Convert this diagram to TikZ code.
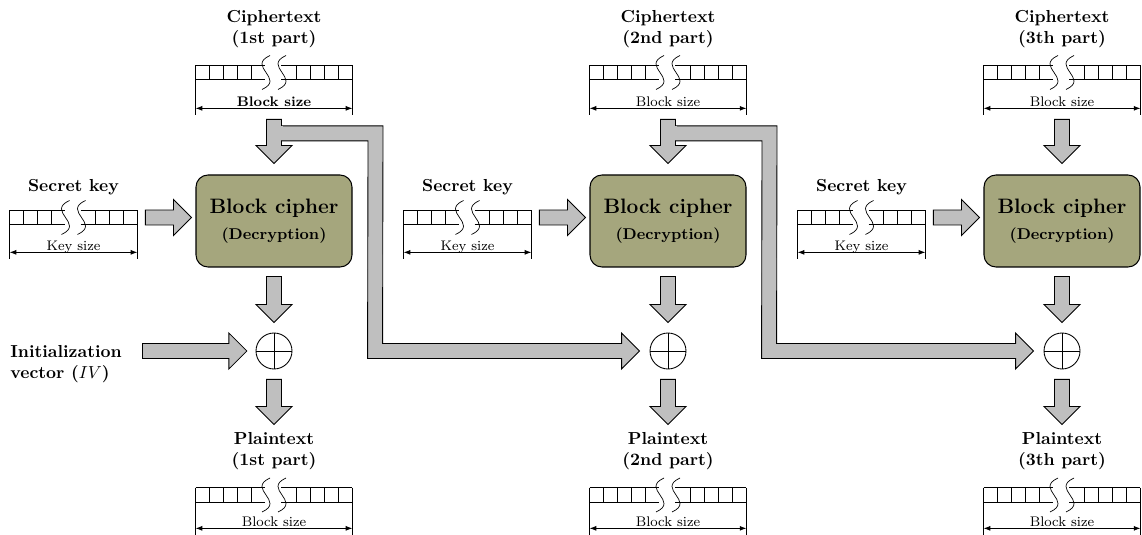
\documentclass[tikz,border=0pt]{standalone}
\usetikzlibrary{calc,arrows.meta,positioning}
\definecolor{cipherfill}{RGB}{165,166,125}
\definecolor{arrowfill}{gray}{0.75}
\tikzset{
	lbl/.style      = {font=\bfseries, align=center},
	reg/.style      = {shape=rectangle, inner sep=0pt, minimum height=8.05pt},
	blockreg/.style = {reg, minimum width=89.7pt},
	keyreg/.style   = {reg, minimum width=73pt},
	regline/.style  = {line width=0.4pt},
	dimline/.style  = {line width=0.4pt, {Latex[length=3.8pt,width=2.8pt]}-{Latex[length=3.8pt,width=2.8pt]}},
	dimlbl/.style   = {font=\footnotesize, anchor=base, inner sep=0pt, yshift=1.2pt},
	cipher/.style   = {shape=rectangle, rounded corners=6.9pt, draw, line width=0.6pt,
		fill=cipherfill, minimum width=89.7pt, minimum height=52.9pt,
		align=center, font=\bfseries},
	xor/.style      = {shape=circle, draw, line width=0.5pt, minimum size=20.7pt, inner sep=0pt,
		path picture={\draw (path picture bounding box.north) -- (path picture bounding box.south)
			(path picture bounding box.west) -- (path picture bounding box.east);}},
	fatgap/.code 2 args = {\def\fatgapa{#1}\def\fatgapb{#2}},
	fatline/.style  = {draw=black, line width=0.5pt},
	fatarrow/.style = {fatgap={0pt}{0pt}, fatline, fill=arrowfill,
		to path={let \p1=($(\tikztostart)!\fatgapa!(\tikztotarget)$),
			\p2=($(\tikztotarget)!\fatgapb!(\tikztostart)$),
			\p3=($(\p2)!10.35pt!(\p1)$) in
			($(\p1)!4.3pt!90:(\p2)$) -- ($(\p3)!4.3pt!90:(\p2)$)
			-- ($(\p3)!10.35pt!90:(\p2)$) -- (\p2)
			-- ($(\p3)!10.35pt!-90:(\p2)$) -- ($(\p3)!4.3pt!-90:(\p2)$)
			-- ($(\p1)!4.3pt!-90:(\p2)$) -- cycle}}
}
% register with a break in the middle
\newcommand\regcells[2]{%
	\foreach \c in {0,...,#2}{
		\draw[regline] ($(#1.north west)+(14*\c,0)$) -- ($(#1.south west)+(14*\c,0)$)
			($(#1.north east)+(-14*\c,0)$) -- ($(#1.south east)+(-14*\c,0)$);
	}
	\draw[regline] (#1.north west) -- ($(#1.north)+(-9,0)$) (#1.south west) -- ($(#1.south)+(-9,0)$)
		($(#1.north)+(7,0)$) -- (#1.north east) ($(#1.south)+(7,0)$) -- (#1.south east);
	\foreach \s in {-8,8}{
		\draw[regline] ($(#1.center)+(\s+4,-17)$) .. controls ($(#1.center)+(\s-20,-6)$)
			and ($(#1.center)+(\s+20,6)$) .. ($(#1.center)+(\s-4,17)$);
	}
}
\newcommand\regdim[3]{%
	\draw[regline] (#1.south west) -- ++(0,#2+7) (#1.south east) -- ++(0,#2+7);
	\draw[dimline] ($(#1.south west)+(0,#2)$) -- ($(#1.south east)+(0,#2)$)
		node[midway, dimlbl] {#3};
}

\begin{document}
\begin{tikzpicture}[x=0.575pt, y=-0.575pt]
	\useasboundingbox (0,0) rectangle (1142,535);

	\node [lbl, align=left, anchor=west, inner sep=0pt] (iv) at (10,364) {Initialization\\vector ($IV$)};

	\foreach \i/\nthpart in {1/1st,2/2nd,3/3th}{
		\pgfmathsetmacro\cx{274+394*(\i-1)}
		\pgfmathsetmacro\kx{\cx-200.5}
		% ciphertext
		\node [lbl] (ctlab\i) at (\cx,29) {Ciphertext\\(\nthpart{} part)};
		\node [blockreg] (ct\i) at (\cx,72.5) {};
		\regcells{ct\i}{4}
		\regdim{ct\i}{28.5}{\ifnum\i=1 \bfseries\fi Block size}
		% key
		\node [lbl] (keylab\i) at (\kx,187) {Secret key};
		\node [keyreg] (key\i) at (\kx,217.5) {};
		\regcells{key\i}{3}
		\regdim{key\i}{27.5}{Key size}
		% cipher and xor
		\node [cipher] (bc\i) at (\cx,221) {{\large Block cipher}\\[3pt]{\small (Decryption)}};
		\node [xor] (x\i) at (\cx,351) {};
		% plaintext
		\node [lbl] (ptlab\i) at (\cx,451) {Plaintext\\(\nthpart{} part)};
		\node [blockreg] (pt\i) at (\cx,495) {};
		\regcells{pt\i}{4}
		\regdim{pt\i}{26}{Block size}

		\draw [fatarrow, fatgap={22.7pt}{6.3pt}] (ct\i.south) to (bc\i.north);
		\draw [fatarrow, fatgap={4.6pt}{2.3pt}] (key\i.east) to (key\i.east -| bc\i.west);
		\draw [fatarrow, fatgap={5.2pt}{5.75pt}] (bc\i.south) to (x\i.north);
		\draw [fatarrow, fatgap={5.75pt}{1pt}] (x\i.south) to (ptlab\i.north);
	}

	\draw [fatarrow, fatgap={11.7pt}{5pt}] (x1.west -| iv.east) to (x1.west);

	% ciphertext fed forward to the next xor
	\foreach \i/\j in {1/2,2/3}{
		\draw [fatline, fill=arrowfill] ($(ct\i.south)+(7.5,46)$) -- ($(ct\i.south)+(109,46)$)
			-- ($(x\j.west)+(-267,-7.5)$) -- ($(x\j.west)+(-28,-7.5)$) -- ($(x\j.west)+(-28,-18)$)
			-- ($(x\j.west)+(-10,0)$) -- ($(x\j.west)+(-28,18)$) -- ($(x\j.west)+(-28,7.5)$)
			-- ($(x\j.west)+(-282,7.5)$) -- ($(ct\i.south)+(94,61)$) -- ($(ct\i.south)+(7.5,61)$);
		\fill [arrowfill] ($(ct\i.south)+(5,46.6)$) rectangle ($(ct\i.south)+(9,60.4)$);
	}
\end{tikzpicture}
\end{document}
